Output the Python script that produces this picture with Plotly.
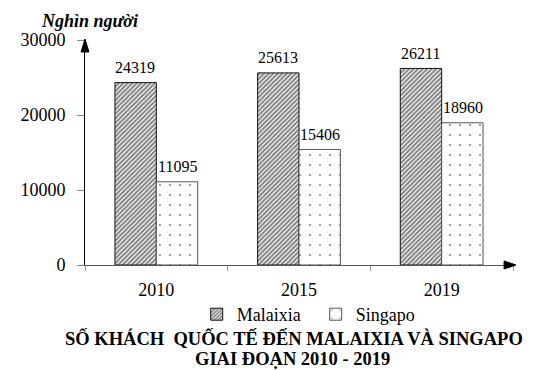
import plotly.graph_objects as go

years = ["2010", "2015", "2019"]
malaixia = [24319, 25613, 26211]
singapo = [11095, 15406, 18960]
series_names = ["Malaixia", "Singapo"]
y_ticks = [0, 10000, 20000, 30000]

OFF = 8  # browser default body margin
W, H = 553 - OFF, 370 - OFF
PX0, PX1, PY0, PY1 = 80, 513, 40, 265
L, T = PX0 - OFF, PY0 - OFF
R, B = 553 - PX1, 370 - PY1
pw, ph = PX1 - PX0, PY1 - PY0

FONT = "Liberation Serif"
BAR_HALF = 21  # px offset of each bar from group centre

fig = go.Figure()
fig.add_trace(go.Bar(
    x=years, y=malaixia, name=series_names[0],
    marker=dict(color="white", line=dict(color="#111", width=1),
                pattern=dict(shape="/", fgcolor="black", bgcolor="white", size=3.2, solidity=0.62)),
))
fig.add_trace(go.Bar(
    x=years, y=singapo, name=series_names[1],
    marker=dict(color="white", line=dict(color="#555", width=1),
                pattern=dict(shape=".", fgcolor="black", bgcolor="white", size=10, solidity=0.03)),
))

for vals, sh in ((malaixia, -BAR_HALF), (singapo, BAR_HALF)):
    for i, v in enumerate(vals):
        fig.add_annotation(x=i, y=v, text=str(v), showarrow=False, xshift=sh, yshift=15,
                           xanchor="center", yanchor="middle",
                           font=dict(family=FONT, size=16, color="black"))

fig.update_layout(
    width=W, height=H, margin=dict(l=L, r=R, t=T, b=B),
    paper_bgcolor="white", plot_bgcolor="white",
    barmode="group", bargap=0.42, bargroupgap=0,
    font=dict(family=FONT, size=15, color="black"),
    showlegend=True,
    legend=dict(orientation="h", x=(193 - PX0) / pw, xanchor="left", y=-(296 - PY1) / ph,
                yanchor="top", font=dict(family=FONT, size=18), itemwidth=30,
                entrywidth=74, entrywidthmode="pixels",
                traceorder="normal", bgcolor="rgba(0,0,0,0)"),
    xaxis=dict(type="category", showline=True, linecolor="#555", linewidth=1,
               ticks="outside", tickson="boundaries", ticklen=5, tickcolor="#999",
               showgrid=False, tickfont=dict(family=FONT, size=18), ticklabelstandoff=8),
    yaxis=dict(range=[0, 30000], tickvals=y_ticks, ticktext=[str(v) for v in y_ticks],
               showline=True, linecolor="black", linewidth=1,
               ticks="outside", ticklen=7, tickcolor="#888", showgrid=False, zeroline=False,
               tickfont=dict(family=FONT, size=18), ticklabelstandoff=8),
)

def px_to_paper(xp, yp):
    return (xp - PX0) / pw, (PY1 - yp) / ph

ytip = px_to_paper(PX0, 39)
yb1 = px_to_paper(PX0 - 4, 52)
yb2 = px_to_paper(PX0 + 4, 52)
fig.add_shape(type="path", xref="paper", yref="paper",
              path=f"M {ytip[0]} {ytip[1]} L {yb1[0]} {yb1[1]} L {yb2[0]} {yb2[1]} Z",
              fillcolor="black", line=dict(color="black", width=1))
xtip = px_to_paper(516, PY1)
xb1 = px_to_paper(504, PY1 - 4)
xb2 = px_to_paper(504, PY1 + 4)
fig.add_shape(type="path", xref="paper", yref="paper",
              path=f"M {xtip[0]} {xtip[1]} L {xb1[0]} {xb1[1]} L {xb2[0]} {xb2[1]} Z",
              fillcolor="black", line=dict(color="black", width=1))

ax, ay = px_to_paper(85, 21)
fig.add_annotation(text="<b><i>Nghìn người</i></b>", xref="paper", yref="paper",
                   x=ax, y=ay, xanchor="center", yanchor="middle", showarrow=False,
                   font=dict(family=FONT, size=18, color="black"))

tx, ty = px_to_paper(291, 338)
fig.add_annotation(text="<b>SỐ KHÁCH  QUỐC TẾ ĐẾN MALAIXIA VÀ SINGAPO</b>", xref="paper", yref="paper",
                   x=tx, y=ty, xanchor="center", yanchor="middle", showarrow=False,
                   font=dict(family=FONT, size=18.5, color="black"))
tx2, ty2 = px_to_paper(290, 359)
fig.add_annotation(text="<b>GIAI ĐOẠN 2010 - 2019</b>", xref="paper", yref="paper",
                   x=tx2, y=ty2, xanchor="center", yanchor="middle", showarrow=False,
                   font=dict(family=FONT, size=18.5, color="black"))

fig.write_html("out.html")
